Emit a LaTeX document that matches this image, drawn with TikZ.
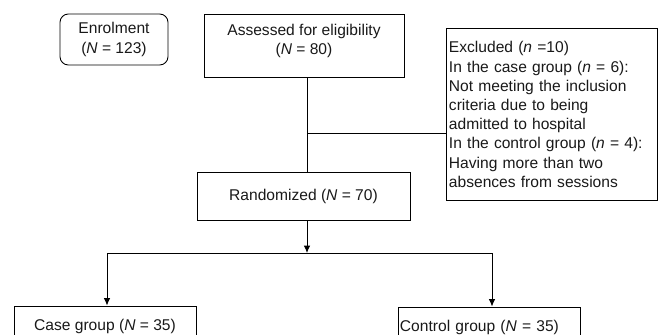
\documentclass[tikz,border=0pt]{standalone}
\usepackage{fontspec}
\setmainfont{Liberation Sans}
\usetikzlibrary{calc,positioning,arrows.meta}

\begin{document}
\begin{tikzpicture}[x=0.03cm,y=-0.03cm,
  every node/.style={font=\fontsize{13.3}{16.4}\selectfont, text=black!90},
  box/.style={draw,line width=0.75pt,rectangle,inner sep=0pt},
  link/.style={line width=0.75pt},
  arrow/.style={line width=0.75pt,-{Latex[length=2.2mm,width=1.9mm]}}
  ]

  \useasboundingbox (0,0) rectangle (660,335);
  \clip (0,0) rectangle (660,335);

  \node [box,rounded corners=2.5mm, minimum width=3.24cm, minimum height=1.53cm, align=center] at(114,39.5) (enrol) {Enrolment\\ (\textit{N} = 123)};
  \node [box, minimum width=6cm, minimum height=1.89cm, align=center, text depth=11pt] at(304,45.5) (assess) {Assessed for eligibility\\(\textit{N} = 80)};

  \node [box, minimum width=6.33cm, minimum height=5.16cm, text width=6.15cm, align=left] at(551.5,114.5) (excl) {Excluded (\textit{n} =10)\\
    In the case group (\textit{n} = 6):\\
    Not meeting the inclusion\\
    criteria due to being\\
    admitted to hospital\\
    In the control group (\textit{n} = 4):\\
    Having more than two\\
    absences from sessions};

  \node [box, minimum width=6.39cm, minimum height=1.44cm] at(303.5,196) (rand) {Randomized (\textit{N} = 70)};

  \node [box, minimum width=5.46cm, minimum height=1.2cm] at(105,326) (case) {Case group (\textit{N} = 35)};
  \node [box, minimum width=5.46cm, minimum height=1.2cm, text width=5.34cm, align=left] at(489,327) (ctrl) {Control group (\textit{N} = 35)};

  %split and fork points
  \coordinate (split) at (307,133);
  \coordinate (fork) at (307,253);
  \coordinate (case_in) at (107,253);
  \coordinate (ctrl_in) at (492,253);

  \draw [link] (assess.south -| split) -- (rand.north -| split);
  \draw [link] (split) -- (split -| excl.west);
  \draw [arrow] (rand.south -| fork) -- (fork);
  \draw [link] (case_in) -- (ctrl_in);
  \draw [arrow] (case_in) -- (case_in |- case.north);
  \draw [arrow] (ctrl_in) -- (ctrl_in |- ctrl.north);

\end{tikzpicture}
\end{document}
